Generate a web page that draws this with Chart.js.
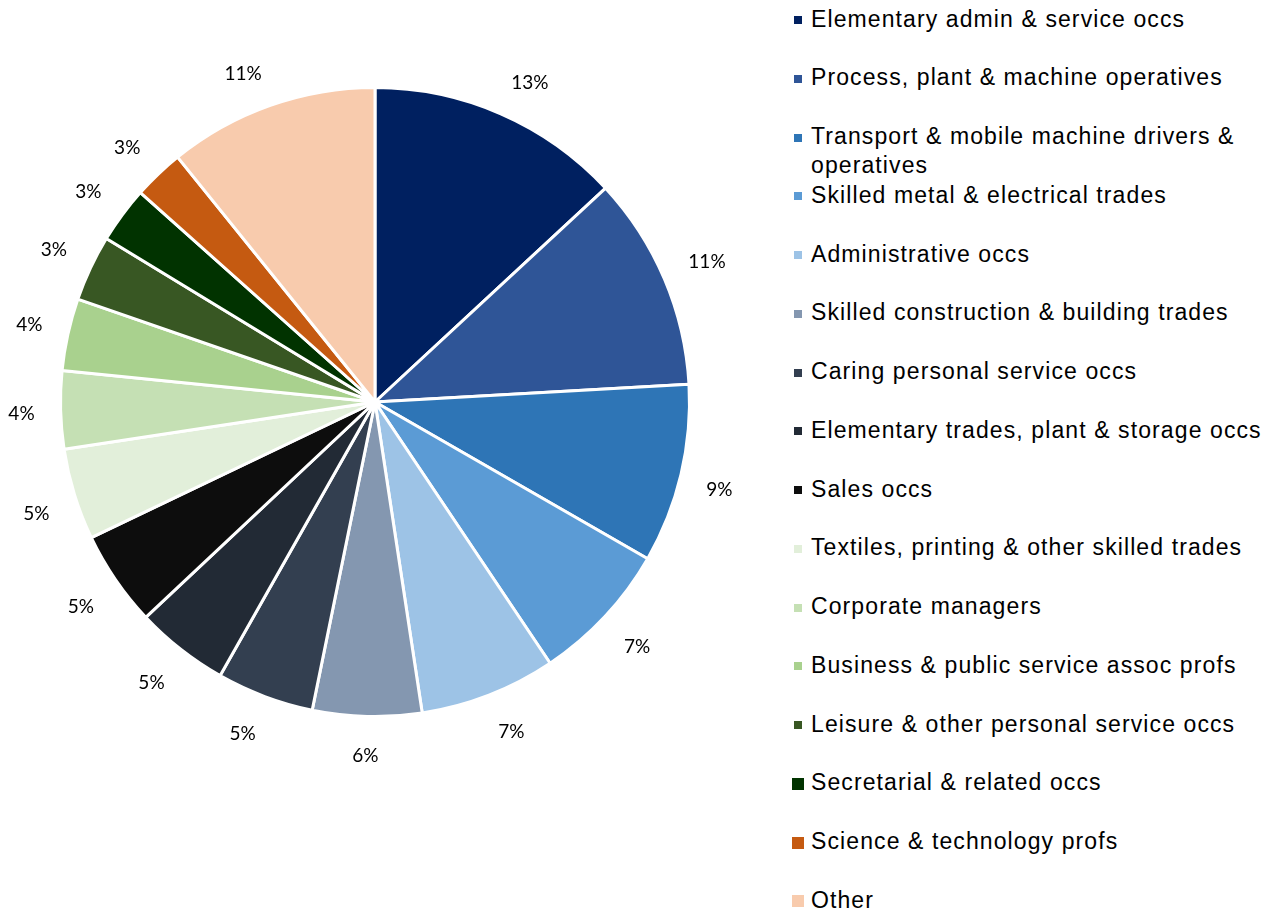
<!DOCTYPE html>
<html>
<head>
<meta charset="utf-8">
<script src="https://cdn.jsdelivr.net/npm/chart.js@4.4.1/dist/chart.umd.min.js"></script>
<style>
body{margin:0;background:#fff;width:1266px;height:913px;overflow:hidden;position:relative;}
#wrap{position:absolute;left:0;top:0;width:750px;height:804px;}
.item{position:absolute;left:811px;width:462px;font-family:"Liberation Sans",Arial,sans-serif;font-size:23px;letter-spacing:1.1px;line-height:29px;color:#000;white-space:normal;}
.box{position:absolute;}
</style>
</head>
<body>
<div id="wrap"><canvas id="canvas"></canvas></div>
<div id="legend"></div>
<script>
// occupation groups, clockwise from 12 o'clock
const categories = [
  'Elementary admin & service occs',
  'Process, plant & machine operatives',
  'Transport & mobile machine drivers & operatives',
  'Skilled metal & electrical trades',
  'Administrative occs',
  'Skilled construction & building trades',
  'Caring personal service occs',
  'Elementary trades, plant & storage occs',
  'Sales occs',
  'Textiles, printing & other skilled trades',
  'Corporate managers',
  'Business & public service assoc profs',
  'Leisure & other personal service occs',
  'Secretarial & related occs',
  'Science & technology profs',
  'Other'
];
// share of total (%)
const shares = [13.1, 11.0, 9.2, 7.3, 7.0, 5.6, 5.0, 4.8, 4.9, 4.7, 4.0, 3.7, 3.4, 2.9, 2.6, 10.8];

const colours = [
  '#002060', '#2F5597', '#2E75B6', '#5B9BD5', '#9DC3E6', '#8497B0',
  '#333F50', '#222A35', '#0D0D0D', '#E2EFDA', '#C5E0B4', '#A9D18E',
  '#385723', '#013300', '#C55A11', '#F8CBAD'
];

const clamp = (v) => Math.max(-1, Math.min(1, v));

// percentage labels just outside each slice
const outsideLabels = {
  id: 'outsideLabels',
  afterDatasetsDraw(chart){
    const ctx = chart.ctx;
    const meta = chart.getDatasetMeta(0);
    const total = shares.reduce((a, b) => a + b, 0);
    ctx.save();
    ctx.font = '19px Lato';
    ctx.fillStyle = '#000';
    ctx.textAlign = 'center';
    ctx.textBaseline = 'middle';
    meta.data.forEach((arc, i) => {
      const p = arc.getProps(['x', 'y', 'startAngle', 'endAngle', 'outerRadius']);
      const mid = (p.startAngle + p.endAngle) / 2;
      const txt = Math.round(shares[i] / total * 100) + '%';
      const w = ctx.measureText(txt).width;
      const cos = Math.cos(mid), sin = Math.sin(mid);
      const r = p.outerRadius + 26;
      const x = p.x + cos * r + clamp(cos * 3) * w / 2;
      const y = p.y + sin * r + clamp(sin * 3) * 10 + 3;
      ctx.fillText(txt, x, y);
    });
    ctx.restore();
  }
};

new Chart(document.getElementById('canvas'), {
  type: 'pie',
  plugins: [outsideLabels],
  data: {
    labels: categories,
    datasets: [{
      data: shares,
      backgroundColor: colours,
      borderColor: '#fff',
      borderWidth: 3
    }]
  },
  options: {
    responsive: true,
    maintainAspectRatio: false,
    animation: false,
    layout: {padding: {top: 86, bottom: 86, left: 59, right: 59}},
    plugins: {
      legend: {display: false},
      tooltip: {enabled: false}
    }
  }
});

// legend, fixed row pitch like the original
const legend = document.getElementById('legend');
categories.forEach((name, i) => {
  const y = 19 + i * 58.75;
  const item = document.createElement('div');
  item.className = 'item';
  item.style.top = (y - 14.5) + 'px';
  item.textContent = name;
  legend.appendChild(item);
  const box = document.createElement('div');
  const s = i >= 13 ? 12 : 8;
  box.className = 'box';
  box.style.width = s + 'px';
  box.style.height = s + 'px';
  box.style.left = (i >= 13 ? 792 : 794) + 'px';
  box.style.top = (y - s / 2 + 1) + 'px';
  box.style.background = colours[i];
  legend.appendChild(box);
});
</script>
</body>
</html>
